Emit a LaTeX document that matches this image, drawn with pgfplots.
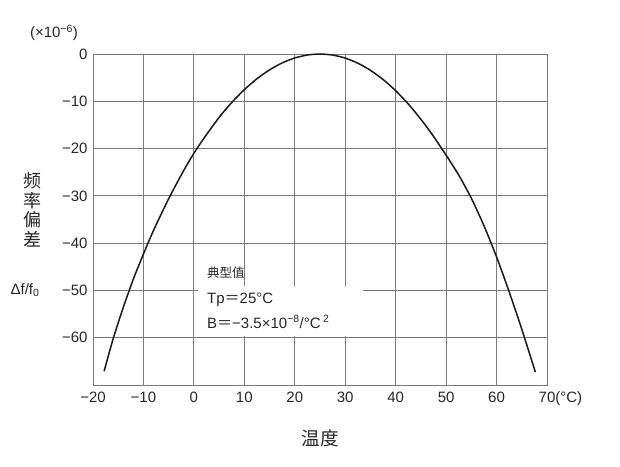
\documentclass[border=0pt]{standalone}
\usepackage{fontspec}
\setmainfont{Liberation Sans}
\newfontfamily\cjk{Noto Sans CJK SC}
\usepackage{pgfplots}
\pgfplotsset{compat=1.18}
\definecolor{gridgray}{HTML}{7A7A7A}

\begin{document}
\begin{tikzpicture}
\path[use as bounding box] (0,0) rectangle (620pt,466pt);
\begin{axis}[
  at={(93pt,81pt)}, anchor=south west,
  width=454pt, height=331pt, scale only axis,
  xmin=-20, xmax=70, ymin=-70, ymax=0,
  xtick={-20,-10,0,10,20,30,40,50,60,70},
  xticklabels={−20,−10,0,10,20,30,40,50,60,70\rlap{(°C)}},
  ytick={-60,-50,-40,-30,-20,-10,0},
  yticklabels={−60,−50,−40,−30,−20,−10,0},
  grid=major,
  major grid style={gridgray, line width=0.9pt},
  axis line style={gridgray, line width=0.9pt},
  major tick length=0pt,
  tick label style={font=\fontsize{15}{17}\selectfont, text=black!85},
  xticklabel style={yshift=-3pt},
  yticklabel style={xshift=-2pt},
]
% frequency deviation curve
\addplot[black!90, line width=1.5pt, smooth, tension=0.4] coordinates {
  (-17.8,-67.1)(-16,-60.2)(-14,-53.6)(-12,-47.6)(-10,-42.3)(-8,-37.3)
  (-5,-30.6)(-2,-24.6)(0,-21.0)(2,-17.8)(5,-13.4)(7.5,-10.26)
  (10,-7.54)(12.5,-5.23)(15,-3.35)(17.5,-1.88)(20,-0.84)(22.5,-0.21)
  (25,0)(27.5,-0.22)(30,-0.86)(32.5,-1.94)(35,-3.45)(37.5,-5.39)
  (40,-7.76)(42.5,-10.57)(45,-13.8)(47.5,-17.4)(50,-21.4)(52.5,-25.6)
  (55,-30.5)(57.5,-36.3)(60,-42.9)(62.5,-50.3)(65,-58.2)(67.7,-67.3)
};
\fill[white] (axis cs:0.8,-49) rectangle (axis cs:33.6,-59.6);
\end{axis}
\node[font=\fontsize{15}{17}\selectfont, text=black!85] at (54pt,433pt) {(×10\textsuperscript{−6})};
\node[align=center, font=\fontsize{18}{19.5}\selectfont\cjk, text=black!85] at (32pt,256pt) {频\\率\\偏\\差};
\node[font=\fontsize{15}{17}\selectfont, text=black!85] at (25pt,176pt) {Δf/f\textsubscript{0}};
\node[font=\fontsize{18.5}{20}\selectfont\cjk, text=black!85] at (320pt,28pt) {温度};
\node[anchor=west, inner sep=0pt, font=\fontsize{12.5}{14}\selectfont\cjk, text=black!85] at (207pt,193pt) {典型值};
\node[anchor=west, inner sep=0pt, font=\fontsize{15}{17}\selectfont, text=black!85] at (207pt,166pt) {Tp{\cjk ＝}25°C};
\node[anchor=west, inner sep=0pt, font=\fontsize{15}{17}\selectfont, text=black!85] at (207pt,144pt) {B{\cjk ＝}−3.5×10\textsuperscript{−8}/°C\,\textsuperscript{2}};
\end{tikzpicture}
\end{document}
